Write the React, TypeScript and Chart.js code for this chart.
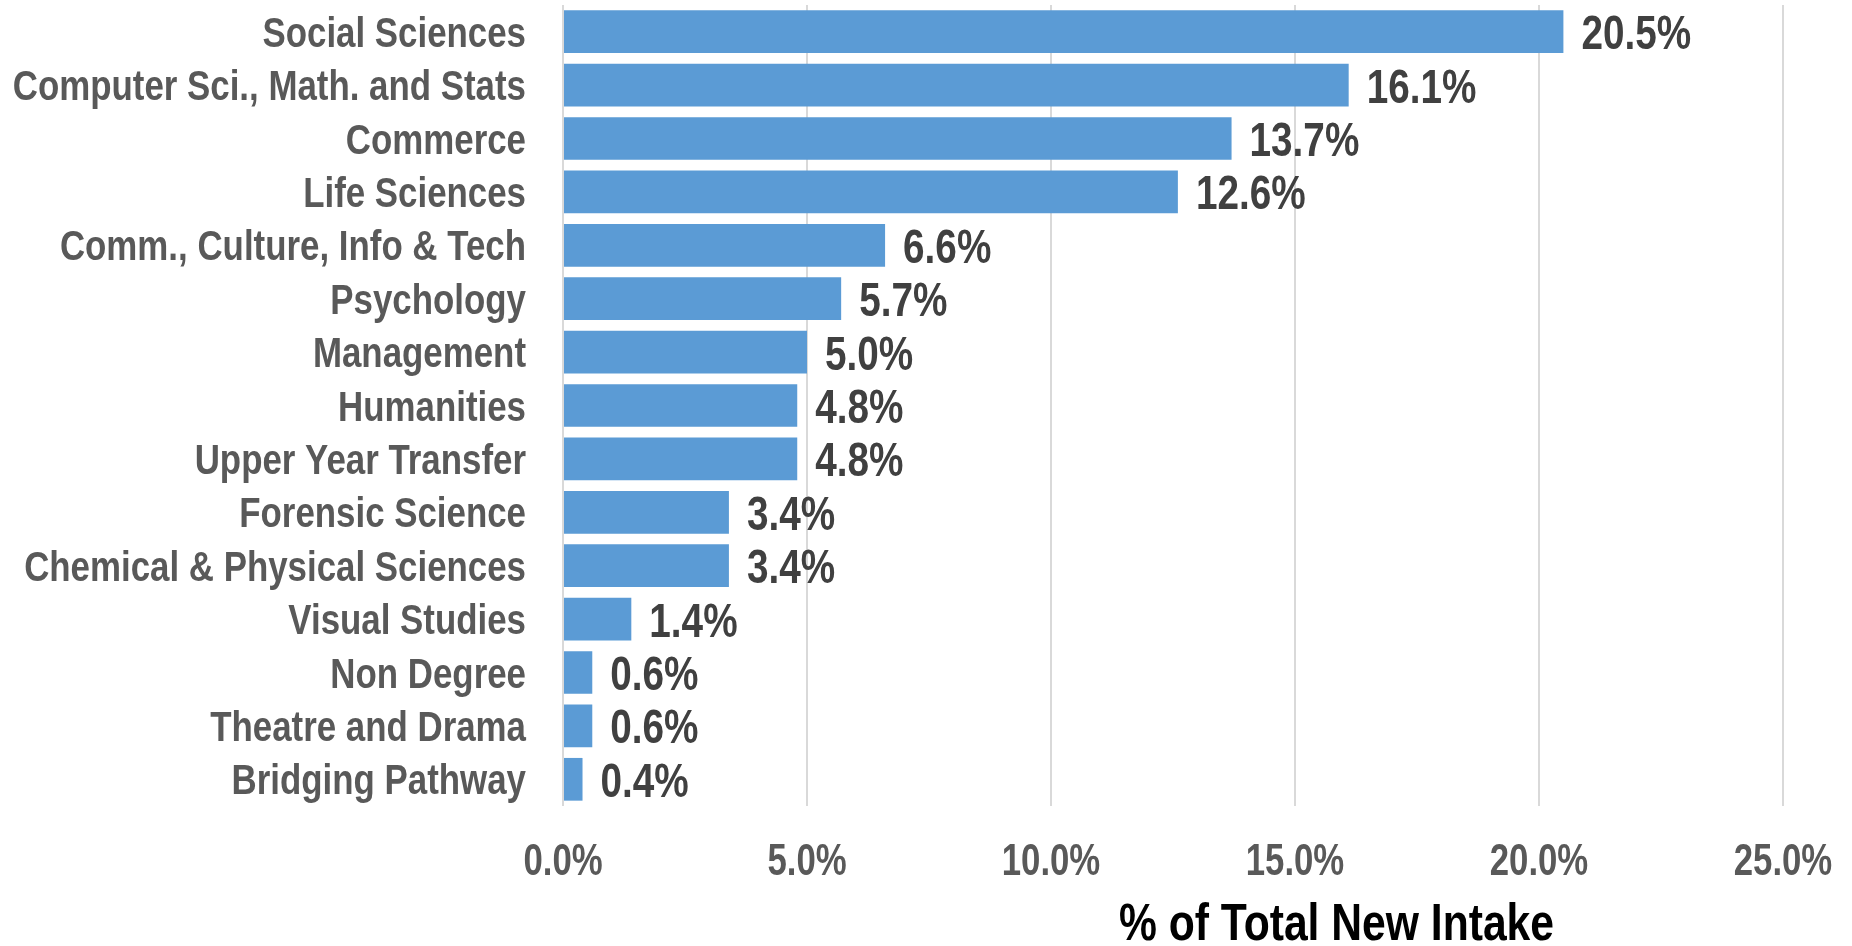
import React, { useEffect, useRef } from "react";
import { Chart, registerables } from "chart.js";

Chart.register(...registerables);

const categories = [
  "Social Sciences",
  "Computer Sci., Math. and Stats",
  "Commerce",
  "Life Sciences",
  "Comm., Culture, Info & Tech",
  "Psychology",
  "Management",
  "Humanities",
  "Upper Year Transfer",
  "Forensic Science",
  "Chemical & Physical Sciences",
  "Visual Studies",
  "Non Degree",
  "Theatre and Drama",
  "Bridging Pathway",
];

const values = [20.5, 16.1, 13.7, 12.6, 6.6, 5.7, 5.0, 4.8, 4.8, 3.4, 3.4, 1.4, 0.6, 0.6, 0.4];

const xMin = 0;
const xMax = 25;
const xStep = 5;
const axisTitle = "% of Total New Intake";

const FONT = '"Liberation Sans", Arial, sans-serif';

function drawText(
  ctx: CanvasRenderingContext2D,
  text: string,
  x: number,
  y: number,
  size: number,
  color: string,
  sx: number,
  align: CanvasTextAlign
) {
  ctx.save();
  ctx.font = `bold ${size}px ${FONT}`;
  ctx.fillStyle = color;
  ctx.textBaseline = "alphabetic";
  ctx.textAlign = align;
  ctx.translate(x, y);
  ctx.scale(sx, 1);
  ctx.fillText(text, 0, 0);
  ctx.restore();
}

export default function App() {
  const ref = useRef<HTMLCanvasElement>(null);

  useEffect(() => {
    if (!ref.current) return;

    const textPlugin = {
      id: "condensedText",
      afterDraw(chart: any) {
        const ctx: CanvasRenderingContext2D = chart.ctx;
        const xs = chart.scales.x;
        const ys = chart.scales.y;
        const area = chart.chartArea;

        // category labels
        categories.forEach((c, i) => {
          const y = ys.getPixelForValue(i);
          drawText(ctx, c, area.left - 37, y + 15, 42, "#595959", 0.83, "right");
        });

        // x tick labels
        xs.ticks.forEach((t: any, i: number) => {
          const x = xs.getPixelForTick(i);
          drawText(ctx, Number(t.value).toFixed(1) + "%", x, area.bottom + 69, 44, "#595959", 0.79, "center");
        });

        // value labels
        const meta = chart.getDatasetMeta(0);
        meta.data.forEach((el: any, i: number) => {
          drawText(ctx, values[i].toFixed(1) + "%", el.x + 18, el.y + 17.5, 49, "#404040", 0.79, "left");
        });

        // axis title
        drawText(ctx, axisTitle, xs.left + xs.width * 0.634, chart.height - 6, 52, "#000000", 0.82, "center");
      },
    };

    const chart = new Chart(ref.current, {
      type: "bar",
      data: {
        labels: categories,
        datasets: [
          {
            data: values,
            backgroundColor: "#5B9BD5",
            borderWidth: 0,
            barPercentage: 0.8,
            categoryPercentage: 1.0,
          },
        ],
      },
      options: {
        indexAxis: "y",
        responsive: false,
        animation: false,
        devicePixelRatio: 1,
        layout: { padding: { top: 5, right: 69, left: 0, bottom: 0 } },
        plugins: {
          legend: { display: false },
          tooltip: { enabled: false },
        },
        scales: {
          x: {
            min: xMin,
            max: xMax,
            grid: { color: "#D9D9D9", lineWidth: 2, drawTicks: false },
            border: { display: false },
            ticks: { stepSize: xStep, display: false },
            afterFit: (scale: any) => {
              scale.height = 140;
              scale.paddingLeft = 0;
              scale.paddingRight = 0;
            },
          },
          y: {
            grid: { display: false, drawTicks: false },
            border: { display: false },
            ticks: { display: false },
            afterFit: (scale: any) => {
              scale.width = 563;
              scale.paddingTop = 0;
              scale.paddingBottom = 0;
            },
          },
        },
      },
      plugins: [textPlugin],
    });

    return () => chart.destroy();
  }, []);

  return (
    <div style={{ position: "fixed", left: 0, top: 0, width: 1852, height: 946, background: "#ffffff" }}>
      <canvas ref={ref} width={1852} height={946} style={{ display: "block" }} />
    </div>
  );
}
